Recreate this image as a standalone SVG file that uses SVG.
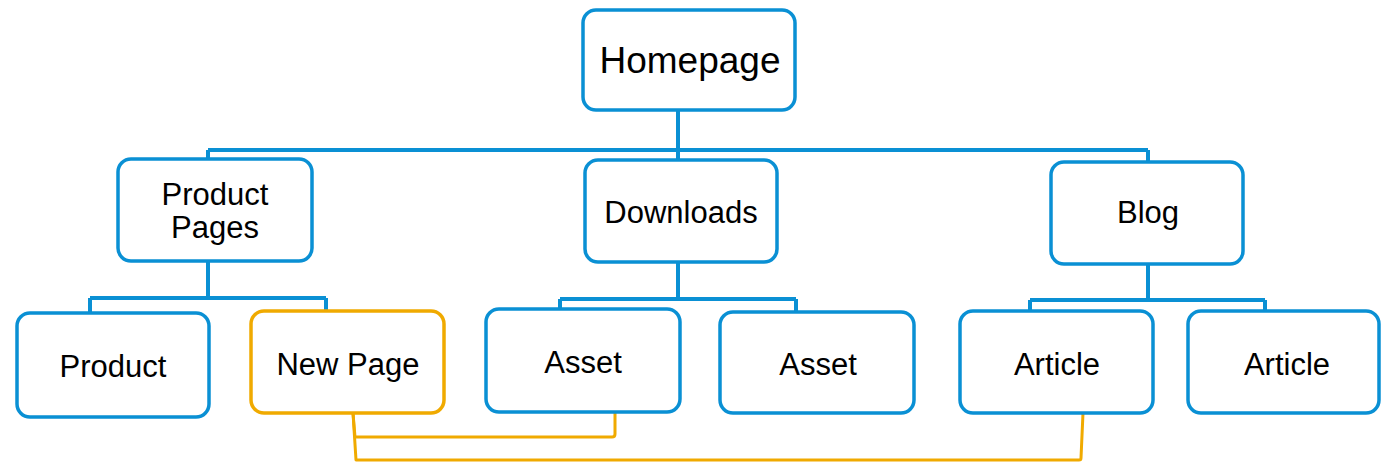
<svg xmlns="http://www.w3.org/2000/svg" width="1381" height="462" viewBox="0 0 1381 462">
<style>
.box{fill:#fff;stroke:#0A90D4;stroke-width:3.5}
.new{fill:#fff;stroke:#F0AA00;stroke-width:3.5}
.c{fill:none;stroke:#0A90D4;stroke-width:4}
.o{fill:none;stroke:#F0AA00;stroke-width:3;stroke-linejoin:round}
text{font-family:"Liberation Sans",Arial,sans-serif;font-size:31px;fill:#000;text-anchor:middle}
</style>
<rect width="1381" height="462" fill="#fff"/>
<g id="connectors">
<path class="c" d="M678 110V150M208 150H1148M208 150V160M678 150V160M1148 150V162"/>
<path class="c" d="M208 261V298M90 298H326M90 298V314M326 298V312"/>
<path class="c" d="M678 262V299M560 299H796M560 299V310M796 299V313"/>
<path class="c" d="M1148 264V300M1030 300H1265M1030 300V312M1265 300V312"/>
<path class="o" d="M353 413L355 437H612Q615 437 615 434V395"/>
<path class="o" d="M353 413L356 460H1079Q1081 460 1081 458L1083 413"/>
</g>
<g id="homepage"><rect class="box" x="583" y="10" width="212" height="100" rx="13"/><text x="690" y="73" style="font-size:37px">Homepage</text></g>
<g id="product-pages"><rect class="box" x="118" y="159" width="194" height="102" rx="13"/><text x="215" y="205">Product</text><text x="215" y="238">Pages</text></g>
<g id="downloads"><rect class="box" x="585" y="160" width="192" height="102" rx="13"/><text x="681" y="223">Downloads</text></g>
<g id="blog"><rect class="box" x="1051" y="162" width="192" height="102" rx="13"/><text x="1148" y="223">Blog</text></g>
<g id="product"><rect class="box" x="17" y="313" width="192" height="104" rx="13"/><text x="113" y="377">Product</text></g>
<g id="new-page"><rect class="new" x="251" y="311" width="193" height="102" rx="13"/><text x="348" y="375">New Page</text></g>
<g id="asset1"><rect class="box" x="486" y="309" width="194" height="103" rx="13"/><text x="583" y="373">Asset</text></g>
<g id="asset2"><rect class="box" x="720" y="312" width="194" height="101" rx="13"/><text x="818" y="375">Asset</text></g>
<g id="article1"><rect class="box" x="960" y="311" width="193" height="102" rx="13"/><text x="1057" y="375">Article</text></g>
<g id="article2"><rect class="box" x="1188" y="311" width="191" height="102" rx="13"/><text x="1287" y="375">Article</text></g>
</svg>
